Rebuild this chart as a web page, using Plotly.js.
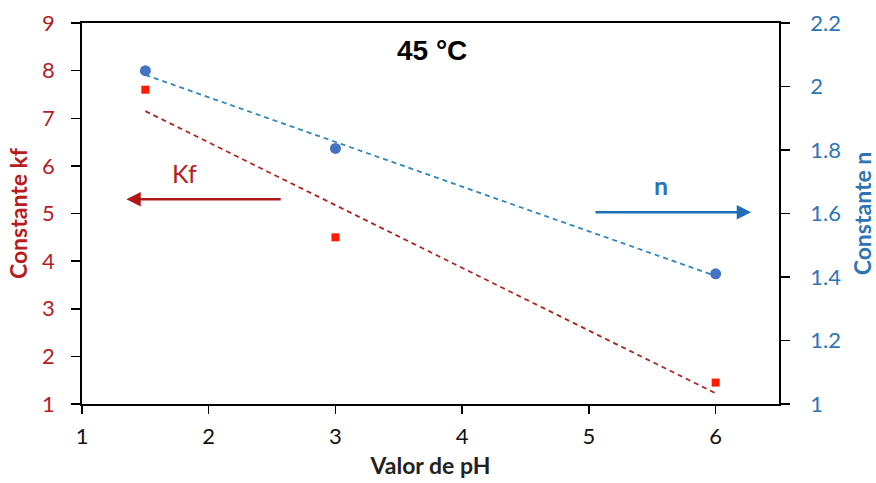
<!DOCTYPE html>
<html><head><meta charset="utf-8">
<script src="https://cdn.plot.ly/plotly-3.0.1.min.js"></script>
<style>html,body{margin:0;padding:0;background:#fff}#c{width:876px;height:483px}</style>
</head><body><div id="c"></div>
<script>
const phValues = [1.5, 3, 6];
const kfValues = [7.6, 4.5, 1.45];
const nValues = [2.05, 1.805, 1.41];
const xTicks = [1, 2, 3, 4, 5, 6];
const kfTicks = [1, 2, 3, 4, 5, 6, 7, 8, 9];
const nTicks = [1, 1.2, 1.4, 1.6, 1.8, 2, 2.2];

function fit(xs, ys) {
  const n = xs.length;
  const mx = xs.reduce((a,b)=>a+b,0)/n, my = ys.reduce((a,b)=>a+b,0)/n;
  let sxy = 0, sxx = 0;
  for (let i=0;i<n;i++){ sxy += (xs[i]-mx)*(ys[i]-my); sxx += (xs[i]-mx)**2; }
  const m = sxy/sxx, b = my - m*mx;
  const x0 = Math.min(...xs), x1 = Math.max(...xs);
  return {x:[x0,x1], y:[m*x0+b, m*x1+b]};
}
const kfFit = fit(phValues, kfValues);
const nFit = fit(phValues, nValues);

const RED = '#b81c22', BLUE = '#2e75b6';
const FONT = 'Lato, "Open Sans", sans-serif';

const traces = [
  {x: kfFit.x, y: kfFit.y, mode:'lines', line:{color:'#b22222', width:1.8, dash:'5px,4px'}, hoverinfo:'skip'},
  {x: nFit.x, y: nFit.y, yaxis:'y2', mode:'lines', line:{color:'#2e86c1', width:1.8, dash:'5px,4px'}, hoverinfo:'skip'},
  {x: phValues, y: kfValues, mode:'markers', marker:{symbol:'square', size:8, color:'#ff1a00'}},
  {x: phValues, y: nValues, yaxis:'y2', mode:'markers', marker:{symbol:'circle', size:11, color:'#4472c4'}}
];

const layout = {
  width: 876, height: 483,
  margin: {l:82, r:97, t:23, b:79},
  showlegend: false,
  paper_bgcolor:'#fff', plot_bgcolor:'#fff',
  font: {family: FONT},
  xaxis: {
    range:[1, 6.5], tickvals: xTicks, ticks:'outside', ticklen:8, tickwidth:1.5, tickcolor:'#000',
    showline:true, linecolor:'#000', linewidth:1.8, mirror:true, showgrid:false, zeroline:false,
    ticklabelstandoff:4,
    tickfont:{size:22, color:'#111', family:FONT},
    title:{text:'<b>Valor de pH</b>', font:{size:23, color:'#222', family:FONT}, standoff:10}
  },
  yaxis: {
    range:[1, 9], tickvals: kfTicks, ticks:'outside', ticklen:9, tickwidth:1.5, tickcolor:'#000',
    showline:true, linecolor:'#000', linewidth:1.8, showgrid:false, zeroline:false,
    ticklabelstandoff:12,
    tickfont:{size:22, color:RED, family:FONT},
    title:{text:'<b>Constante kf</b>', font:{size:23, color:RED, family:FONT}, standoff:8}
  },
  yaxis2: {
    overlaying:'y', side:'right', range:[1, 2.2], tickvals: nTicks, ticks:'outside', ticklen:9, tickwidth:1.5, tickcolor:'#000',
    showline:true, linecolor:'#000', linewidth:1.8, showgrid:false, zeroline:false,
    ticklabelstandoff:16,
    tickfont:{size:22, color:BLUE, family:FONT},
    title:{text:'<b>Constante n</b>', font:{size:23, color:BLUE, family:FONT}, standoff:18}
  },
  annotations: [
    {x:3.76, y:8.43, xref:'x', yref:'y', text:'<b>45 °C</b>', showarrow:false,
     font:{size:28, color:'#000', family:'"Liberation Sans", Arial, sans-serif'}},
    {x:1.81, y:5.86, xref:'x', yref:'y', text:'Kf', showarrow:false, font:{size:25, color:RED, family:FONT}},
    {x:1.35, y:5.30, xref:'x', yref:'y', ax:2.58, ay:5.30, axref:'x', ayref:'y', text:'', showarrow:true,
     arrowhead:2, arrowsize:1.2, arrowwidth:2.4, arrowcolor:'#b01818'},
    {x:5.57, y:1.69, xref:'x', yref:'y2', text:'<b>n</b>', showarrow:false, font:{size:25, color:BLUE, family:FONT}},
    {x:6.28, y:1.604, xref:'x', yref:'y2', ax:5.04, ay:1.604, axref:'x', ayref:'y2', text:'', showarrow:true,
     arrowhead:2, arrowsize:1.2, arrowwidth:2.4, arrowcolor:'#1f6fb5'}
  ]
};
Plotly.newPlot('c', traces, layout, {staticPlot:true, displayModeBar:false});
</script></body></html>
